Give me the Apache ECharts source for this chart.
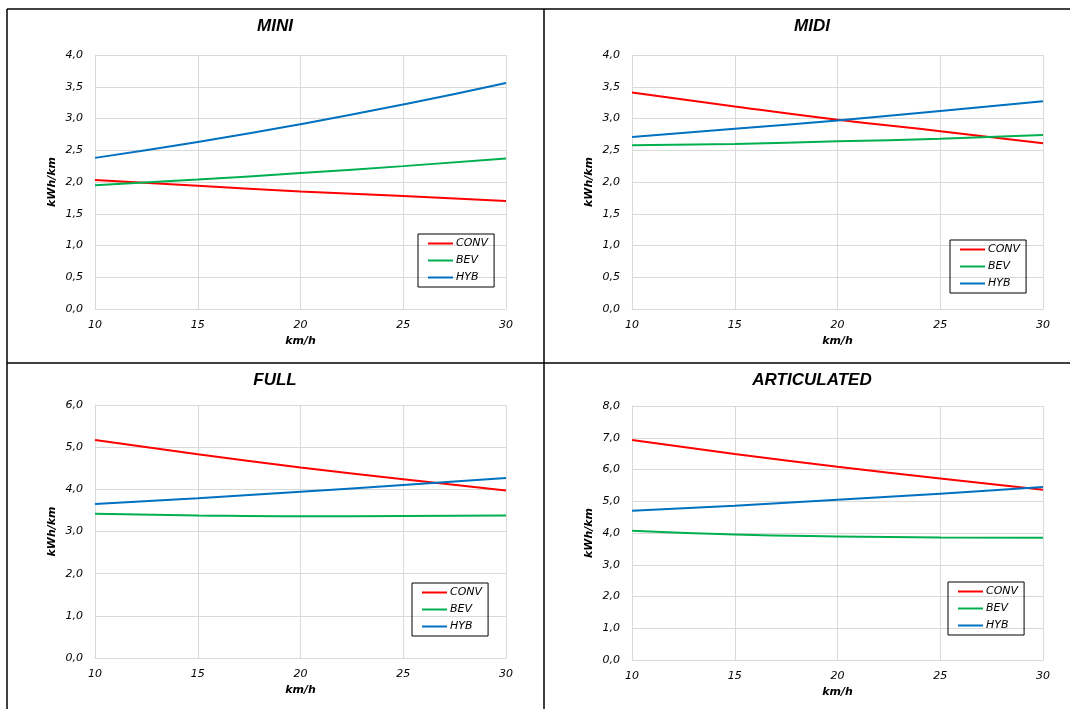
<!DOCTYPE html>
<html>
<head>
<meta charset="utf-8">
<script src="https://cdn.jsdelivr.net/npm/echarts@6/dist/echarts.min.js"></script>
<style>
  html, body { margin: 0; padding: 0; background: #fff; }
  #chart { width: 1070px; height: 709px; }
</style>
</head>
<body>
<div id="chart"></div>
<script>
// speeds (km/h) read at the grid lines
const speeds = [10, 15, 20, 25, 30];
const seriesNames = ['CONV', 'BEV', 'HYB'];
const panelTitles = ['MINI', 'MIDI', 'FULL', 'ARTICULATED'];
const yMax = [4, 4, 6, 8];
const yStep = [0.5, 0.5, 1, 1];

// kWh/km per panel
const miniConv = [2.03, 1.94, 1.85, 1.78, 1.70];
const miniBev = [1.95, 2.04, 2.14, 2.25, 2.37];
const miniHyb = [2.38, 2.63, 2.91, 3.22, 3.56];

const midiConv = [3.41, 3.19, 2.98, 2.80, 2.61];
const midiBev = [2.58, 2.60, 2.64, 2.68, 2.74];
const midiHyb = [2.71, 2.84, 2.97, 3.12, 3.27];

const fullConv = [5.17, 4.83, 4.52, 4.24, 3.97];
const fullBev = [3.42, 3.38, 3.36, 3.37, 3.38];
const fullHyb = [3.65, 3.79, 3.94, 4.10, 4.27];

const artConv = [6.93, 6.49, 6.09, 5.72, 5.36];
const artBev = [4.07, 3.95, 3.89, 3.86, 3.85];
const artHyb = [4.70, 4.86, 5.05, 5.24, 5.45];

const panelData = [
    [miniConv, miniBev, miniHyb],
    [midiConv, midiBev, midiHyb],
    [fullConv, fullBev, fullHyb],
    [artConv, artBev, artHyb]
];

const colors = ['#ff0000', '#00b050', '#0070c0'];
const tickFont = 'DejaVu Sans, Verdana, sans-serif';
const titleFont = 'Liberation Sans Narrow, Liberation Sans, Arial, sans-serif';

const grids = [
    { left: 95, top: 55, width: 411, height: 254 },
    { left: 632, top: 55, width: 411, height: 254 },
    { left: 95, top: 405, width: 411, height: 253 },
    { left: 632, top: 406, width: 411, height: 254 }
];
const titlePos = [[270, 13], [807, 13], [270, 367], [807, 367]];
const legendPos = [[418, 234], [950, 240], [412, 583], [948, 582]];

const chart = echarts.init(document.getElementById('chart'));

const xAxes = [], yAxes = [], series = [], titles = [], legends = [];

grids.forEach((g, i) => {
    titles.push({
        text: panelTitles[i],
        left: titlePos[i][0],
        top: titlePos[i][1],
        textAlign: 'center',
        textStyle: { fontFamily: titleFont, fontSize: 17, fontWeight: 'bold', fontStyle: 'italic', color: '#000' }
    });
    xAxes.push({
        type: 'value',
        gridIndex: i,
        min: 10,
        max: 30,
        interval: 5,
        name: 'km/h',
        nameLocation: 'middle',
        nameGap: 27,
        nameTextStyle: { fontFamily: tickFont, fontSize: 11, fontWeight: 'bold', fontStyle: 'italic', color: '#000' },
        axisLine: { lineStyle: { color: '#d9d9d9' } },
        axisTick: { show: false },
        axisLabel: { fontFamily: tickFont, fontSize: 11, fontStyle: 'italic', color: '#000', margin: 11 },
        splitLine: { show: true, lineStyle: { color: '#d9d9d9' } }
    });
    yAxes.push({
        type: 'value',
        gridIndex: i,
        min: 0,
        max: yMax[i],
        interval: yStep[i],
        name: 'kWh/km',
        nameLocation: 'middle',
        nameGap: 37,
        nameTextStyle: { fontFamily: tickFont, fontSize: 11, fontWeight: 'bold', fontStyle: 'italic', color: '#000' },
        axisLine: { show: true, lineStyle: { color: '#d9d9d9' } },
        axisTick: { show: false },
        axisLabel: {
            fontFamily: tickFont, fontSize: 11, fontStyle: 'italic', color: '#000', margin: 12,
            formatter: v => v.toFixed(1).replace('.', ',')
        },
        splitLine: { show: true, lineStyle: { color: '#d9d9d9' } }
    });
    seriesNames.forEach((name, k) => {
        series.push({
            name: name,
            type: 'line',
            xAxisIndex: i,
            yAxisIndex: i,
            smooth: true,
            showSymbol: false,
            data: speeds.map((s, j) => [s, panelData[i][k][j]]),
            lineStyle: { color: colors[k], width: 2 },
            itemStyle: { color: colors[k] }
        });
    });
    legends.push({
        data: seriesNames,
        orient: 'vertical',
        left: legendPos[i][0],
        top: legendPos[i][1],
        borderColor: '#000',
        borderWidth: 1,
        padding: [3, 6, 3, 10],
        itemGap: 4,
        itemWidth: 25,
        itemHeight: 2,
        icon: 'rect',
        selectedMode: false,
        textStyle: { fontFamily: tickFont, fontSize: 11, fontStyle: 'italic', color: '#000', padding: [0, 0, 0, -2], lineHeight: 13 }
    });
});

const borderStyle = { stroke: '#000', lineWidth: 1.5 };
const graphic = [
    { type: 'line', shape: { x1: 7, y1: 9, x2: 1070, y2: 9 }, style: borderStyle },
    { type: 'line', shape: { x1: 7, y1: 9, x2: 7, y2: 709 }, style: borderStyle },
    { type: 'line', shape: { x1: 544, y1: 9, x2: 544, y2: 709 }, style: borderStyle },
    { type: 'line', shape: { x1: 7, y1: 363, x2: 1070, y2: 363 }, style: borderStyle }
];

chart.setOption({
    animation: false,
    title: titles,
    grid: grids,
    xAxis: xAxes,
    yAxis: yAxes,
    legend: legends,
    series: series,
    graphic: graphic
});
window.addEventListener('resize', () => chart.resize());
</script>
</body>
</html>
